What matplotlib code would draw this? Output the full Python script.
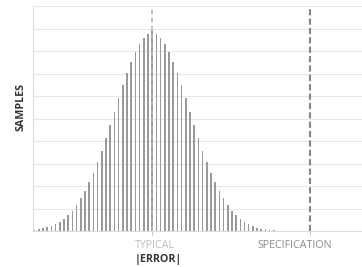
import matplotlib
matplotlib.use("Agg")
import matplotlib.pyplot as plt

plt.rcParams['font.family'] = ['Open Sans', 'DejaVu Sans']

# bar heights (grid units), left tail -> peak -> right tail
samples = [0.06, 0.09, 0.13, 0.18, 0.24, 0.31, 0.41, 0.54, 0.71, 0.91,
           1.15, 1.46, 1.78, 2.16, 2.60, 3.07, 3.57, 4.13, 4.72, 5.29,
           5.91, 6.47, 7.01, 7.53, 7.94, 8.31, 8.56, 8.74, 8.87,
           8.74, 8.56, 8.29, 7.94, 7.53, 7.01, 6.47, 5.91, 5.29, 4.72,
           4.13, 3.57, 3.07, 2.60, 2.16, 1.78, 1.46, 1.15, 0.91, 0.71,
           0.54, 0.41, 0.31, 0.22, 0.15, 0.10, 0.07, 0.04, 0.03, 0.015]
typical = 28
spec = 65.5
tick_labels = ["TYPICAL", "SPECIFICATION"]
label_x = [28.6, 62]

fig = plt.figure(figsize=(3.62, 2.67), dpi=100)
ax = fig.add_axes([33/362, 1-231/267, 1-33/362, 225/267])

ax.bar(range(len(samples)), samples, width=0.38, color="#999999", zorder=2)
ax.axvline(typical, color="#b8b8b8", lw=1.2, ls=(0, (3, 2)), zorder=3)
ax.axvline(spec, color="#858585", lw=1.5, ls=(0, (3, 1.5)), zorder=3)

ax.set_xlim(-0.4, 78)
ax.set_ylim(0, 10)
ax.set_yticks(range(0, 11))
ax.set_yticklabels([])
ax.tick_params(axis="y", length=0)
ax.grid(axis="y", color="#e8e8e8", lw=0.8, zorder=0)

ax.set_xticks([typical, spec])
ax.set_xticklabels([])
ax.tick_params(axis="x", length=3, color="#c8c8c8")
tr = ax.get_xaxis_transform()
for x, t, c in zip(label_x, tick_labels, ["#bdbdbd", "#8a8a8a"]):
    ax.text(x, -14/225, t, transform=tr, ha="center", va="center",
            fontsize=7.7, color=c)
ax.text(29.5, -28.5/225, "|ERROR|", transform=tr, ha="center", va="center",
        fontsize=7.7, fontweight="bold", color="#333333")

for s in ["top", "right"]:
    ax.spines[s].set_visible(False)
for s in ["left", "bottom"]:
    ax.spines[s].set_color("#dddddd")
    ax.spines[s].set_linewidth(0.8)

ax.set_ylabel("SAMPLES", fontsize=7.7, fontweight="bold", color="#333333")
ax.yaxis.set_label_coords(-0.019, 0.55)

fig.savefig("out.png", dpi=100)
